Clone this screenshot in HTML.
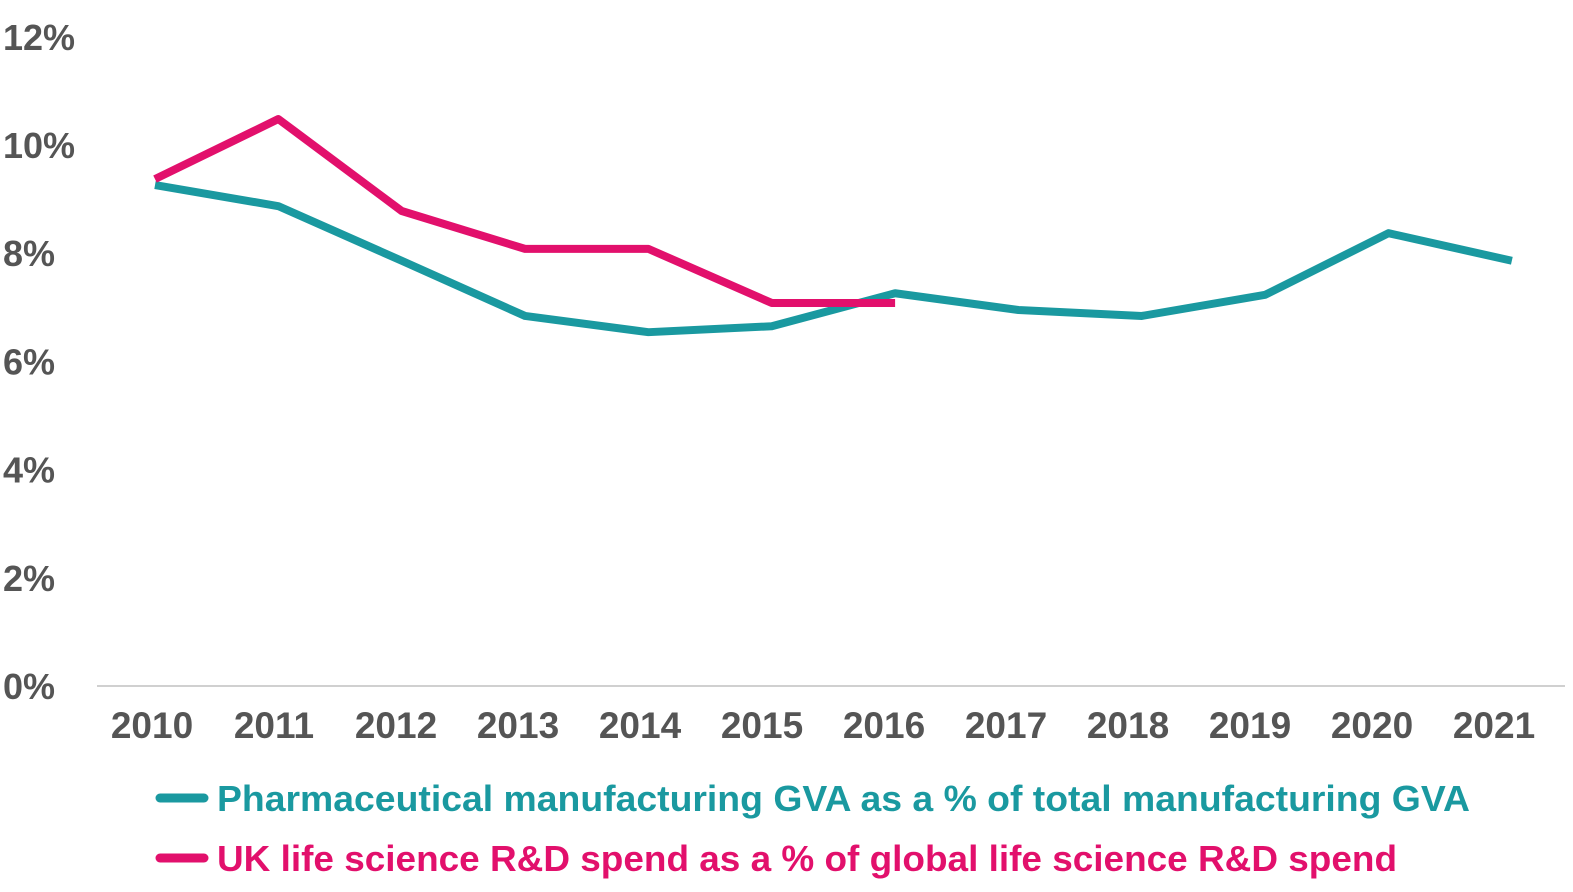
<!DOCTYPE html>
<html><head><meta charset="utf-8"><style>
html,body{margin:0;padding:0;background:#fff;}
svg text{font-family:"Liberation Sans",sans-serif;font-weight:bold;}
</style></head><body>
<svg id="chart" width="1573" height="887" viewBox="0 0 1573 887" xmlns="http://www.w3.org/2000/svg">
<g id="yaxis"></g>
<g id="xaxis"></g>
<g id="series"></g>
<g>
<line x1="160" y1="798" x2="204" y2="798" stroke="#1a99a0" stroke-width="9" stroke-linecap="round"/>
<text x="217" y="811" font-size="36" fill="#1a99a0" textLength="1253" lengthAdjust="spacingAndGlyphs">Pharmaceutical manufacturing GVA as a % of total manufacturing GVA</text>
<line x1="160" y1="858" x2="204" y2="858" stroke="#e2106c" stroke-width="9" stroke-linecap="round"/>
<text x="217" y="871" font-size="36" fill="#e2106c" textLength="1180" lengthAdjust="spacingAndGlyphs">UK life science R&amp;D spend as a % of global life science R&amp;D spend</text>
</g>
</svg>
<script>
const years=["2010","2011","2012","2013","2014","2015","2016","2017","2018","2019","2020","2021"];
const pharma=[9.26,8.87,7.86,6.84,6.54,6.65,7.26,6.95,6.84,7.23,8.37,7.86];
const rd=[9.37,10.48,8.78,8.08,8.08,7.08,7.08];
const yTicks=[0,2,4,6,8,10,12];
const NS="http://www.w3.org/2000/svg";
const x=i=>155+i*123.35;
const xl=i=>152+i*122;
const y=v=>686-v*54.1;
const ya=document.getElementById('yaxis'),xa=document.getElementById('xaxis'),se=document.getElementById('series');
yTicks.forEach(t=>{
 const el=document.createElementNS(NS,'text');
 
 
 el.setAttribute('x',3);el.setAttribute('y',y(t)+13);
 el.setAttribute('font-size','36');el.setAttribute('fill','#555');
 el.textContent=t+'%';ya.appendChild(el);
});
const ax=document.createElementNS(NS,'line');


ax.setAttribute('x1',97);ax.setAttribute('x2',1565);ax.setAttribute('y1',686);ax.setAttribute('y2',686);
ax.setAttribute('stroke','#d0d0d0');ax.setAttribute('stroke-width','2');xa.appendChild(ax);
years.forEach((yr,i)=>{
 const el=document.createElementNS(NS,'text');
 
 
 el.setAttribute('x',xl(i));el.setAttribute('y',738);el.setAttribute('text-anchor','middle');
 el.setAttribute('font-size','37');el.setAttribute('fill','#555');
 el.textContent=yr;xa.appendChild(el);
});
function line(vals,color,name){
 const p=document.createElementNS(NS,'polyline');
 
 
 p.setAttribute('points',vals.map((v,i)=>x(i)+','+y(v)).join(' '));
 p.setAttribute('fill','none');p.setAttribute('stroke',color);p.setAttribute('stroke-width','8');
 p.setAttribute('stroke-linejoin','round');
 se.appendChild(p);
}
line(pharma,'#1a99a0','pharma-gva-line');
line(rd,'#e2106c','rd-spend-line');
</script>
</body></html>
